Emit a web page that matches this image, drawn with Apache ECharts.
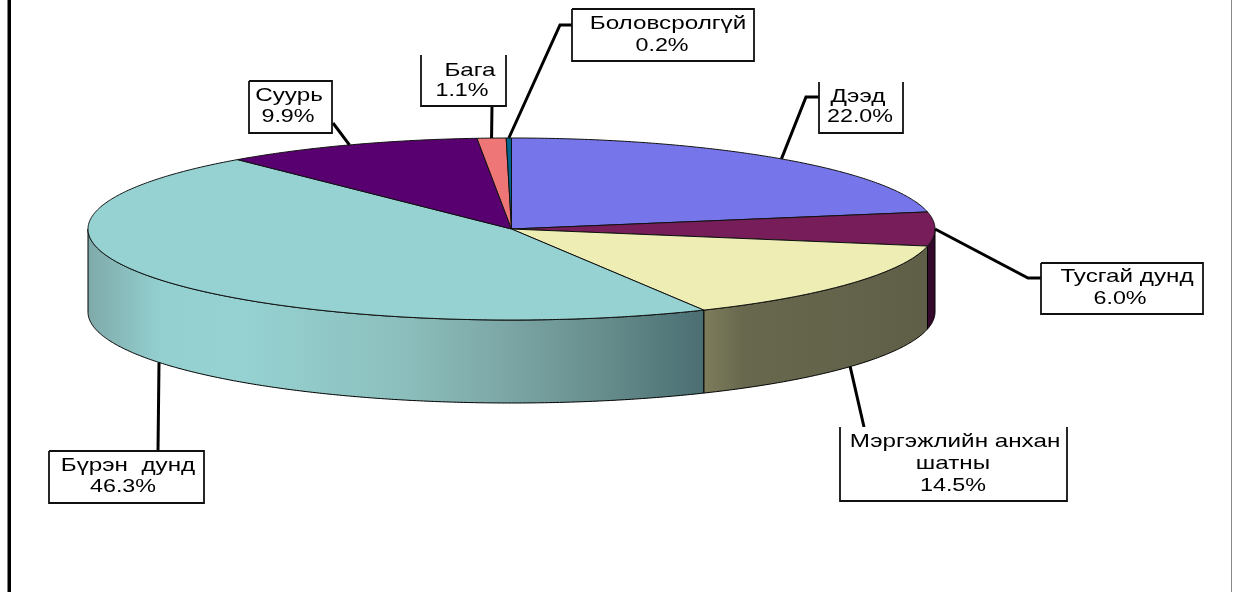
<!DOCTYPE html>
<html><head><meta charset="utf-8">
<style>html,body{margin:0;padding:0;background:#fff}#c{width:1233px;height:593px}</style>
<script src="https://cdn.jsdelivr.net/npm/echarts@6/dist/echarts.min.js"></script>
</head><body><div id="c"></div>
<script>
const categories = ['Дээд','Тусгай дунд','Мэргэжлийн анхан шатны','Бүрэн  дунд','Суурь','Бага','Боловсролгүй'];
const values = [22.0, 6.0, 14.5, 46.3, 9.9, 1.1, 0.2];
const topColors = ['#7676ea','#771e5a','#eeeeb4','#96d2d2','#590070','#ee7676','#00648c'];

// Layout only: pie ellipse and callout boxes
const pie = {cx:511.5, cy:229, rx:423.5, ry:91, depth:83};
const callouts = [
  {box:[819,82,903,133], top:false, elbow:[[806,97],[819,97]], lines:[['Дээд',858,97],['22.0%',860,117]]},
  {box:[1041,263,1203,314], top:true, elbow:[[1028,278],[1041,278]], lines:[['Тусгай дунд',1127,277],['6.0%',1120,299]]},
  {box:[840,427,1067,501], top:false, elbow:[[864,427]], lines:[['Мэргэжлийн анхан',955,442],['шатны',953,464],['14.5%',953,486]]},
  {box:[49,451,204,503], top:true, elbow:[[158,451]], lines:[['Бүрэн  дунд',128,466],['46.3%',123,487]]},
  {box:[249,81,332,133], top:true, elbow:[[333,123]], lines:[['Суурь',289,96],['9.9%',288,117]]},
  {box:[421,55,506,106], top:false, elbow:[[492,106]], lines:[['Бага',470,71],['1.1%',462,91]]},
  {box:[572,9,754,61], top:true, elbow:[[560,25],[572,25]], lines:[['Боловсролгүй',668,24],['0.2%',662,46]]}
];
const total = values.reduce((a,b)=>a+b,0);
const grad = (stops)=>new echarts.graphic.LinearGradient(0,0,1,0,stops.map(s=>({offset:s[0],color:s[1]})));
const sideFills = [
  '#330a2b','#330a2b',
  grad([[0,'#7e7e5c'],[0.18,'#68684e'],[1,'#5f5f48']]),
  grad([[0,'#7fa9a9'],[0.12,'#94d0d0'],[0.25,'#96d2d2'],[0.5,'#8cc0be'],[0.65,'#7fabaa'],[0.82,'#69908f'],[1,'#4a6e72']]),
  '#333','#333','#333'
];
const pt = (deg,down)=>{
  const a = deg*Math.PI/180;
  return [pie.cx+pie.rx*Math.sin(a), pie.cy-pie.ry*Math.cos(a)+(down?pie.depth:0)];
};
const arc = (a0,a1,down)=>{
  const n = Math.max(2,Math.ceil(Math.abs(a1-a0)*2)), out=[];
  for(let i=0;i<=n;i++) out.push(pt(a0+(a1-a0)*i/n,down));
  return out;
};
const before = (i)=>values.slice(0,i).reduce((a,b)=>a+b,0);

function renderItem(params, api){
  const i = api.value(0), v = api.value(1);
  const a0 = before(i)/total*360, a1 = a0+v/total*360, mid=(a0+a1)/2;
  const kids = [];
  // side wall: only the front half of the disc (90°–270°) shows
  const s0 = Math.max(a0,90), s1 = Math.min(a1,270);
  if(s1>s0){
    kids.push({type:'polygon',z2:1,shape:{points:arc(s0,s1,false).concat(arc(s1,s0,true))},
      style:{fill:sideFills[i],stroke:'#000',lineWidth:1}});
  }
  // top face
  kids.push({type:'polygon',z2:2,shape:{points:[[pie.cx,pie.cy]].concat(arc(a0,a1,false))},
    style:{fill:topColors[i],stroke:'#111',lineWidth:1}});
  // callout
  const c = callouts[i], b = c.box;
  const front = mid>100 && mid<260;
  kids.push({type:'polyline',z2:3,shape:{points:[pt(mid,front)].concat(c.elbow)},
    style:{fill:null,stroke:'#000',lineWidth:3}});
  kids.push({type:'rect',z2:4,shape:{x:b[0],y:b[1],width:b[2]-b[0],height:b[3]-b[1]},style:{fill:'#fff'}});
  const border = c.top
    ? [[b[0],b[1]],[b[2],b[1]],[b[2],b[3]],[b[0],b[3]],[b[0],b[1]]]
    : [[b[0],b[1]],[b[0],b[3]],[b[2],b[3]],[b[2],b[1]]];
  kids.push({type:'polyline',z2:5,shape:{points:border},style:{fill:null,stroke:'#111',lineWidth:1.8}});
  c.lines.forEach(l=>{
    const numeric = /%$/.test(l[0]);
    kids.push({type:'text',z2:6,x:l[1],y:l[2],scaleX:numeric?1.26:1.31,
      style:{text:l[0],fill:'#000',font:'18.5px "Liberation Sans"',textAlign:'center',textVerticalAlign:'middle'}});
  });
  return {type:'group',children:kids};
}

const chart = echarts.init(document.getElementById('c'),null,{renderer:'canvas'});
chart.setOption({
  animation:false,
  backgroundColor:'#fff',
  graphic:[
    {type:'rect',shape:{x:7.5,y:0,width:3.5,height:592},style:{fill:'#000'}},
    {type:'rect',shape:{x:1231,y:0,width:1,height:592},style:{fill:'#888'}}
  ],
  series:[{
    type:'custom',
    coordinateSystem:'none',
    renderItem,
    silent:true,
    data:values.map((v,i)=>({name:categories[i],value:[i,v]}))
  }]
});
</script></body></html>
